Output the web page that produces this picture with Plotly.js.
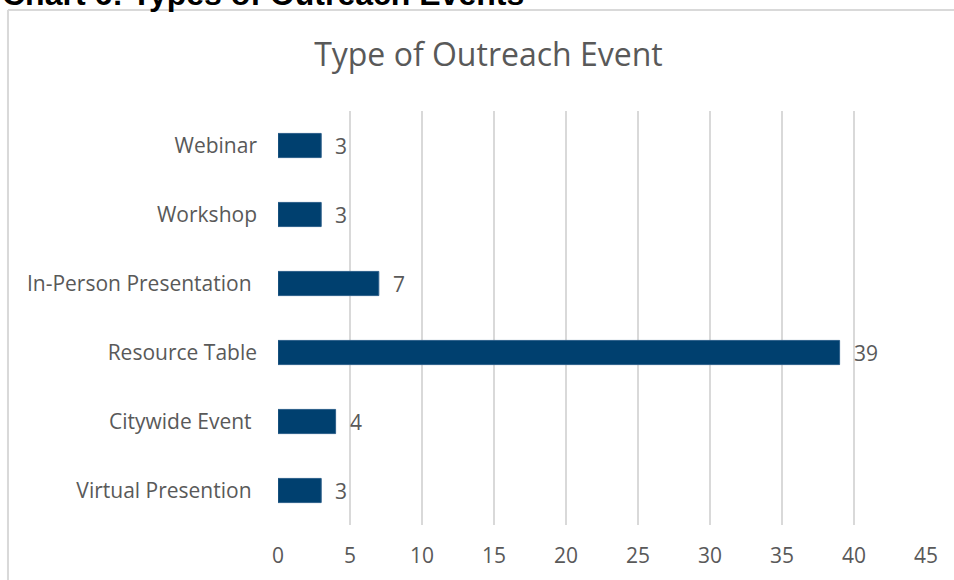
<!DOCTYPE html>
<html>
<head>
<meta charset="utf-8">
<script src="https://cdn.plot.ly/plotly-3.0.1.min.js"></script>
<style>html,body{margin:0;padding:0;background:#fff;}#chart{width:954px;height:580px;}</style>
</head>
<body>
<div id="chart"></div>
<script>
const categories = ["Webinar", "Workshop", "In-Person Presentation", "Resource Table", "Citywide Event", "Virtual Presention"];
const categoryLabels = ["Webinar", "Workshop", "In-Person Presentation\u00a0", "Resource Table", "Citywide Event\u00a0", "Virtual Presention\u00a0"];
const values = [3, 3, 7, 39, 4, 3];
const xTicks = [0, 5, 10, 15, 20, 25, 30, 35, 40, 45];
const chartTitle = "Type of Outreach Event";
const heading = "Chart 6: Types of Outreach Events";

const grey = "#595959";
const labelFont = {family: "Open Sans", size: 21, color: grey};

const labelAnnotations = categories.map((c, i) => ({
  x: values[i], y: c, xref: "x", yref: "y",
  text: String(values[i]), showarrow: false,
  xanchor: "left", yanchor: "middle", xshift: 12,
  font: labelFont
}));

const data = [{
  type: "bar", orientation: "h",
  x: values, y: categories,
  marker: {color: "#00406F", line: {color: "#2c5f8a", width: 1}},
  hoverinfo: "x+y"
}];

const layout = {
  width: 954, height: 580,
  margin: {l: 278, r: 28, t: 111, b: 55},
  paper_bgcolor: "#fff", plot_bgcolor: "#fff",
  bargap: 0.65,
  showlegend: false,
  title: {
    text: chartTitle, xref: "container", yref: "container",
    x: 0.512, xanchor: "center", y: 0.905, yanchor: "middle",
    font: {family: "Open Sans", size: 32, color: grey}
  },
  xaxis: {
    range: [0, 45], tickvals: xTicks, ticktext: xTicks.map(String),
    showgrid: true, gridcolor: "#d9d9d9", gridwidth: 2,
    zeroline: false, showline: false, ticks: "",
    ticklabelstandoff: 16,
    tickfont: labelFont, fixedrange: true
  },
  yaxis: {
    type: "category", autorange: "reversed",
    tickvals: categories, ticktext: categoryLabels,
    showgrid: false, zeroline: false, showline: false, ticks: "",
    ticklabelstandoff: 20,
    tickfont: labelFont, fixedrange: true
  },
  shapes: [
    {type: "line", xref: "paper", yref: "paper", x0: -0.4167, x1: -0.4167, y0: 1.244, y1: -0.2, line: {color: "#d9d9d9", width: 2}},
    {type: "line", xref: "paper", yref: "paper", x0: -0.4167, x1: 1.1, y0: 1.244, y1: 1.244, line: {color: "#d9d9d9", width: 2}}
  ],
  annotations: labelAnnotations.concat([{
    xref: "paper", yref: "paper", x: -0.429, y: 1.283,
    xanchor: "left", yanchor: "middle", showarrow: false,
    text: "<b>" + heading + "</b>",
    font: {family: "Liberation Sans", size: 32, color: "#000"}
  }])
};

Plotly.newPlot("chart", data, layout, {displayModeBar: false, staticPlot: true});
</script>
</body>
</html>
